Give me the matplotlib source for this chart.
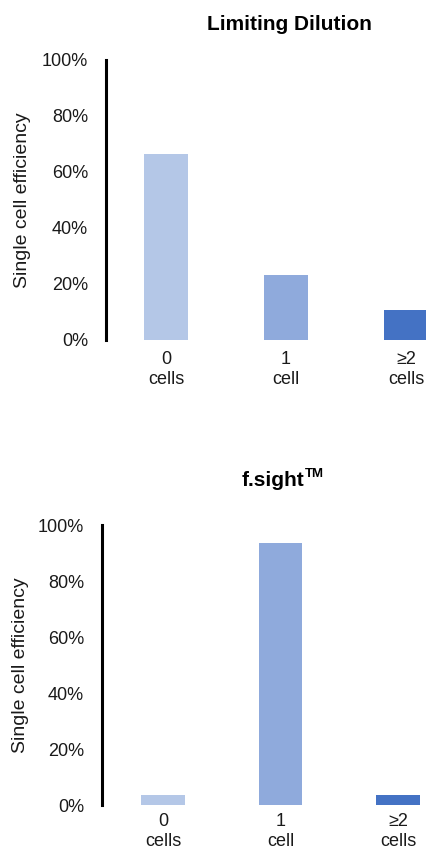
import matplotlib
matplotlib.use("Agg")
import matplotlib.pyplot as plt
from matplotlib.ticker import PercentFormatter

plt.rcParams['font.family'] = ['Liberation Sans', 'DejaVu Sans']

categories = ["0\ncells", "1\ncell", "\u22652\ncells"]
limiting_dilution = [66.5, 23.2, 10.7]
fsight = [3.6, 93.6, 3.6]
yticks = [0, 20, 40, 60, 80, 100]
colors = ["#B4C7E7", "#8FAADC", "#4472C4"]

W, H = 427, 850
fig = plt.figure(figsize=(W / 100, H / 100), dpi=100)
TXT = "#1a1a1a"


def px_axes(left, top, right, bottom):
    return fig.add_axes([left / W, 1 - bottom / H, (right - left) / W, (bottom - top) / H])


def style(ax, values, xlim, width, xpad, ls):
    x = list(range(len(values)))
    ax.bar(x, values, width=width, color=colors)
    ax.set_xlim(*xlim)
    ax.set_ylim(0, 100)
    ax.set_yticks(yticks)
    ax.yaxis.set_major_formatter(PercentFormatter(decimals=0))
    ax.set_xticks(x)
    ax.set_xticklabels(categories, linespacing=ls)
    for s in ["top", "right", "bottom"]:
        ax.spines[s].set_visible(False)
    ax.spines["left"].set_linewidth(2.2)
    ax.spines["left"].set_color("black")
    ax.tick_params(axis="y", length=0, pad=13, labelsize=13, labelcolor=TXT)
    ax.tick_params(axis="x", length=0, pad=xpad, labelsize=13, labelcolor=TXT)


# Top chart
ax1 = px_axes(106, 60, 427, 340)
style(ax1, limiting_dilution, (-0.5, 2.175), 0.367, 8, 1.25)
fig.text(289 / W, 1 - 25 / H, "Limiting Dilution", ha="center", va="center",
         fontsize=15, fontweight="bold")
fig.text(22.5 / W, 1 - 200 / H, "Single cell efficiency", rotation=90,
         ha="center", va="center", fontsize=14, color=TXT)

# Bottom chart
ax2 = px_axes(102, 525, 427, 805)
style(ax2, fsight, (-0.52, 2.247), 0.374, 6, 1.2)
fig.text(304 / W, 1 - 485.5 / H, "f.sight", ha="right", va="baseline",
         fontsize=15, fontweight="bold")
fig.text(304.5 / W, 1 - 477 / H, "TM", ha="left", va="baseline",
         fontsize=9.5, fontweight="bold")
fig.text(21 / W, 1 - 665 / H, "Single cell efficiency", rotation=90,
         ha="center", va="center", fontsize=14, color=TXT)

fig.savefig("out.png", dpi=100)
